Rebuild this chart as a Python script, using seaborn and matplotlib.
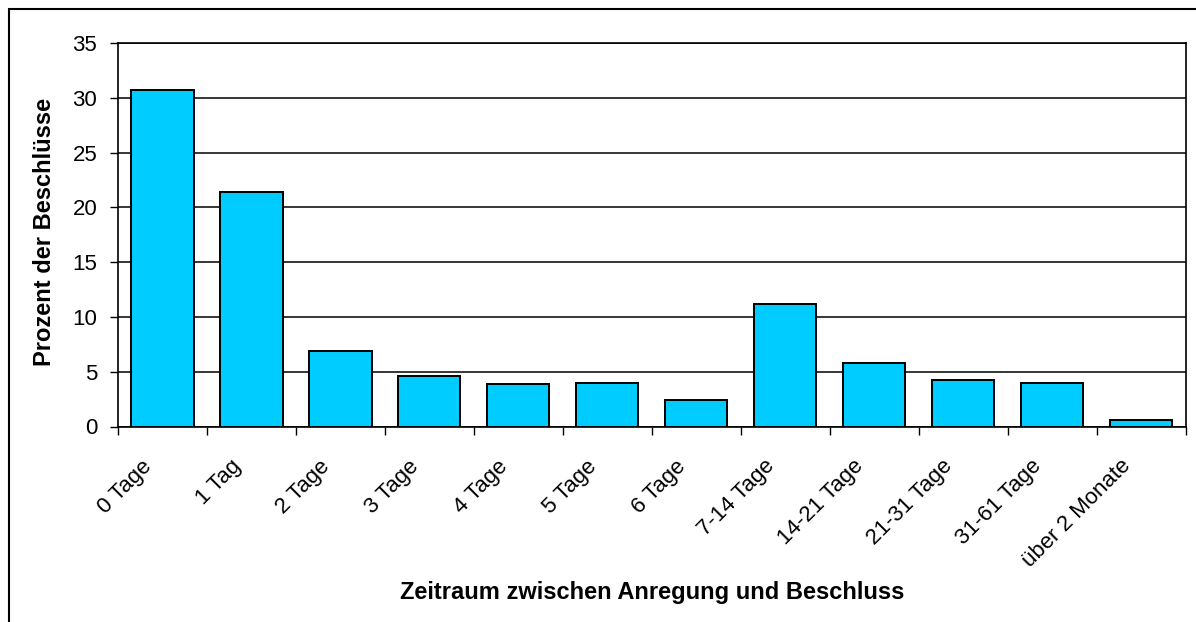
import matplotlib
matplotlib.use("Agg")
import matplotlib.pyplot as plt
import matplotlib.transforms as mtransforms
from matplotlib.patches import Rectangle
import seaborn as sns
import pandas as pd

# Share of resolutions by time between proposal and resolution
categories = ["0 Tage", "1 Tag", "2 Tage", "3 Tage", "4 Tage", "5 Tage", "6 Tage",
              "7-14 Tage", "14-21 Tage", "21-31 Tage", "31-61 Tage", "über 2 Monate"]
percent = [30.7, 21.4, 6.9, 4.6, 3.9, 4.0, 2.4, 11.2, 5.8, 4.2, 4.0, 0.55]
y_ticks = [0, 5, 10, 15, 20, 25, 30, 35]

sns.set_theme(style="white")
plt.rcParams["font.family"] = ["Liberation Sans", "DejaVu Sans"]
plt.rcParams["text.color"] = "black"
plt.rcParams["xtick.color"] = "black"
plt.rcParams["ytick.color"] = "black"
plt.rcParams["axes.labelcolor"] = "black"

W, H, DPI = 1196, 622, 100
fig = plt.figure(figsize=(W / DPI, H / DPI), dpi=DPI)
ax = fig.add_axes([118 / W, (H - 426.5) / H, (1185.5 - 118) / W, (426.5 - 43) / H])

df = pd.DataFrame({"Zeitraum": categories, "Prozent": percent})
sns.barplot(data=df, x="Zeitraum", y="Prozent", ax=ax, color="#00CCFF",
            saturation=1, width=0.70, edgecolor="black", linewidth=1.4, zorder=3)

ax.set_xlim(-0.5, len(categories) - 0.5)
ax.set_ylim(0, 35)
ax.set_yticks(y_ticks)
ax.set_yticklabels([str(t) for t in y_ticks], fontsize=16)
ax.grid(axis="y", color="black", linewidth=1.1, zorder=0)
ax.set_axisbelow(True)

for s in ax.spines.values():
    s.set_visible(True)
    s.set_color("black")
    s.set_linewidth(1.2)

ax.tick_params(axis="y", which="major", direction="out", length=6, width=1,
               color="black", pad=9, left=True)

# x ticks at category boundaries, labels at category centres
ax.set_xticks([i - 0.5 for i in range(len(categories) + 1)], minor=False)
ax.set_xticklabels([""] * (len(categories) + 1))
ax.tick_params(axis="x", which="major", direction="out", length=6, width=1,
               color="black", bottom=True)
ax.set_xticks(range(len(categories)), minor=True)
ax.set_xticklabels(categories, minor=True, rotation=45, ha="right",
                   rotation_mode="anchor", fontsize=16)
ax.tick_params(axis="x", which="minor", length=0, pad=21)
shift = mtransforms.ScaledTranslation(-21 / DPI, 0, fig.dpi_scale_trans)
for lbl in ax.get_xticklabels(minor=True):
    lbl.set_transform(lbl.get_transform() + shift)

ax.set_xlabel("")
ax.set_ylabel("")
fig.text(652 / W, 1 - 592 / H, "Zeitraum zwischen Anregung und Beschluss",
         ha="center", va="center", fontsize=17, fontweight="bold")
fig.text(45 / W, 1 - 232 / H, "Prozent der Beschlüsse", rotation=90,
         ha="center", va="center", fontsize=17, fontweight="bold")

# chart frame
fig.add_artist(Rectangle((8.5 / W, -0.2), 1.5, 1 - 8.5 / H + 0.2,
                         transform=fig.transFigure, fill=False,
                         edgecolor="black", linewidth=1.5))

fig.savefig("out.png", dpi=DPI, facecolor="white")
